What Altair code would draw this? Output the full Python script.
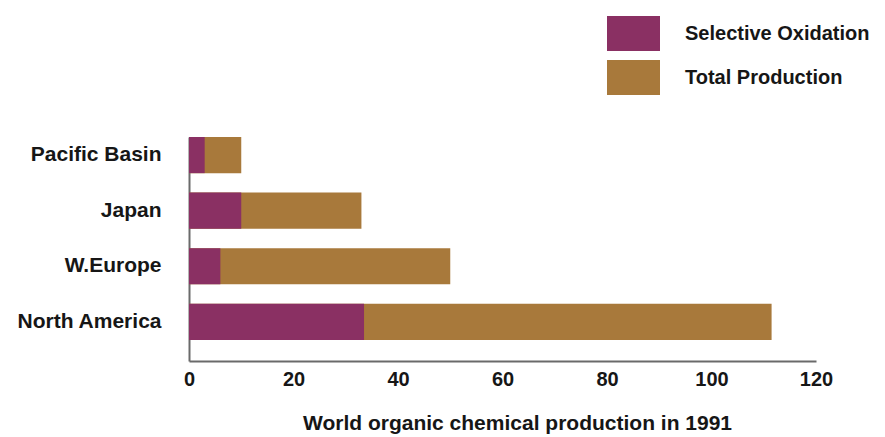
import altair as alt
import pandas as pd

# World organic chemical production in 1991, by region
regions = ["Pacific Basin", "Japan", "W.Europe", "North America"]
selective = [3, 10, 6, 33.5]
total = [10, 33, 50, 111.5]
series = ["Selective Oxidation", "Total Production"]
colors = ["#8a3063", "#a8793b"]
x_ticks = [0, 20, 40, 60, 80, 100, 120]

# Total bars first so the selective-oxidation bars sit on top of them
rows = [{"region": r, "series": series[1], "value": v} for r, v in zip(regions, total)]
rows += [{"region": r, "series": series[0], "value": v} for r, v in zip(regions, selective)]
df = pd.DataFrame(rows)

FONT = "Liberation Sans"
TEXT = "#161616"
AXIS = "#6a6a6a"

chart = (
    alt.Chart(df)
    .mark_bar()
    .encode(
        y=alt.Y(
            "region:N",
            sort=regions,
            scale=alt.Scale(paddingInner=0.35, paddingOuter=0.19, align=0),
            axis=alt.Axis(
                title=None,
                ticks=False,
                labelPadding=28,
                labelFont=FONT,
                labelFontSize=21,
                labelFontWeight="bold",
                labelColor=TEXT,
                labelLimit=300,
                domainColor=AXIS,
                domainWidth=2,
            ),
        ),
        x=alt.X(
            "value:Q",
            stack=None,
            scale=alt.Scale(domain=[0, 120], nice=False),
            axis=alt.Axis(
                values=x_ticks,
                ticks=False,
                grid=False,
                labelFlush=False,
                labelPadding=8,
                labelFont=FONT,
                labelFontSize=20,
                labelFontWeight="bold",
                labelColor=TEXT,
                domainColor=AXIS,
                domainWidth=2,
                title="World organic chemical production in 1991",
                titleFont=FONT,
                titleFontSize=21,
                titleFontWeight="bold",
                titleColor=TEXT,
                titlePadding=23,
                titleX=328,
            ),
        ),
        color=alt.Color(
            "series:N",
            scale=alt.Scale(domain=series, range=colors),
            legend=alt.Legend(
                title=None,
                orient="none",
                legendX=418,
                legendY=-130,
                padding=0,
                symbolType="M-1,-0.66H1V0.66H-1Z",
                symbolSize=2809,
                symbolStrokeWidth=0,
                symbolOpacity=1,
                labelFont=FONT,
                labelFontSize=20,
                labelFontWeight="bold",
                labelColor=TEXT,
                labelLimit=400,
                labelOffset=25,
                rowPadding=0,
            ),
        ),
    )
    .properties(
        width=627,
        height=224,
        autosize=alt.AutoSizeParams(type="none"),
        padding={"left": 189, "top": 137, "right": 69, "bottom": 76},
    )
    .configure(background="white")
    .configure_view(stroke=None, strokeWidth=0)
)

chart.save("out.html", embed_options={"renderer": "svg", "actions": False})
